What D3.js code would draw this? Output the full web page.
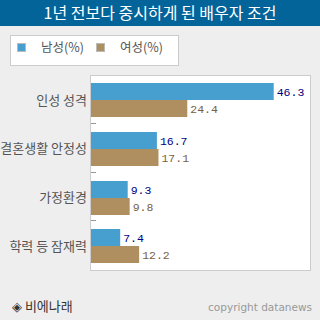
<!DOCTYPE html>
<html><head><meta charset="utf-8">
<script src="https://cdn.jsdelivr.net/npm/d3@7"></script>
<style>html,body{margin:0;padding:0;background:#eeeeee;}svg{display:block;}</style>
</head><body>
<script>
const title = "1년 전보다 중시하게 된 배우자 조건";
const categories = ["인성 성격", "결혼생활 안정성", "가정환경", "학력 등 잠재력"];
const seriesNames = ["남성(%)", "여성(%)"];
const male = [46.3, 16.7, 9.3, 7.4];
const female = [24.4, 17.1, 9.8, 12.2];
const source = "◈ 비에나래";
const copyright = "copyright datanews";

const colors = ["#479fcf", "#af8f5f"];
const labelColors = ["#000080", "#7a6040"];
const W = 320, H = 320;
const svg = d3.select("body").append("svg").attr("width", W).attr("height", H);
svg.append("rect").attr("width", W).attr("height", H).attr("fill", "#eeeeee");

// title bar
svg.append("rect").attr("x", 0).attr("y", 0).attr("width", W).attr("height", 26).attr("fill", "#03649a");
svg.append("text").attr("x", W/2).attr("y", 19).attr("text-anchor", "middle")
  .attr("fill", "#fff").attr("font-family", "'Noto Sans CJK KR', sans-serif").attr("font-size", 16)
  .text(title);

// legend
svg.append("rect").attr("x", 10.5).attr("y", 35.5).attr("width", 168).attr("height", 30)
  .attr("fill", "#fff").attr("stroke", "#cccccc");
const legX = [17, 96], legTX = [41, 120];
seriesNames.forEach((n, i) => {
  svg.append("rect").attr("x", legX[i] + 0.5).attr("y", 43.5).attr("width", 8).attr("height", 8)
    .attr("fill", colors[i]).attr("stroke", "#bbbbbb");
  svg.append("text").attr("x", legTX[i]).attr("y", 52).attr("fill", "#555")
    .attr("font-family", "'Noto Sans CJK KR', sans-serif").attr("font-size", 12.5).text(n);
});

// plot area
const px0 = 90, py0 = 75, px1 = 310, py1 = 270;
svg.append("rect").attr("x", px0 + 0.5).attr("y", py0 + 0.5).attr("width", px1 - px0).attr("height", py1 - py0)
  .attr("fill", "#fff").attr("stroke", "#cccccc");

const x = d3.scaleLinear().domain([0, 55.5]).range([px0 + 1, px1]);
const y = d3.scaleBand().domain(categories).range([py0, py1]).paddingInner(0);
const barH = 17;

// tick marks at band boundaries
categories.slice(1).forEach(c => {
  const ty = Math.round(y(c)) - 0.5;
  svg.append("line").attr("x1", px0 + 1).attr("x2", px0 + 6).attr("y1", ty).attr("y2", ty)
    .attr("stroke", "#999");
});

const series = [male, female];
categories.forEach((c, ci) => {
  const top = y(c) + 8;
  series.forEach((s, si) => {
    const by = Math.round(top + si * barH);
    svg.append("rect").attr("x", x(0)).attr("y", by).attr("width", x(s[ci]) - x(0)).attr("height", barH)
      .attr("fill", colors[si]);
    svg.append("text").attr("x", x(s[ci]) + 3).attr("y", by + barH/2 + 4)
      .attr("fill", labelColors[si]).attr("font-family", "'Liberation Mono', monospace").attr("font-size", 11.5)
      .text(s[ci]);
  });
  svg.append("text").attr("x", 87).attr("y", top + barH + 4.5).attr("text-anchor", "end")
    .attr("fill", "#555").attr("font-family", "'Noto Sans CJK KR', sans-serif").attr("font-size", 13)
    .text(c);
});

// footer
svg.append("text").attr("x", 12).attr("y", 311).attr("fill", "#333")
  .attr("font-family", "'Noto Sans CJK KR', sans-serif").attr("font-size", 13).text(source);
svg.append("text").attr("x", 312).attr("y", 311).attr("text-anchor", "end").attr("fill", "#999")
  .attr("font-family", "'DejaVu Sans', sans-serif").attr("font-size", 10.5).text(copyright);
</script>
</body></html>
